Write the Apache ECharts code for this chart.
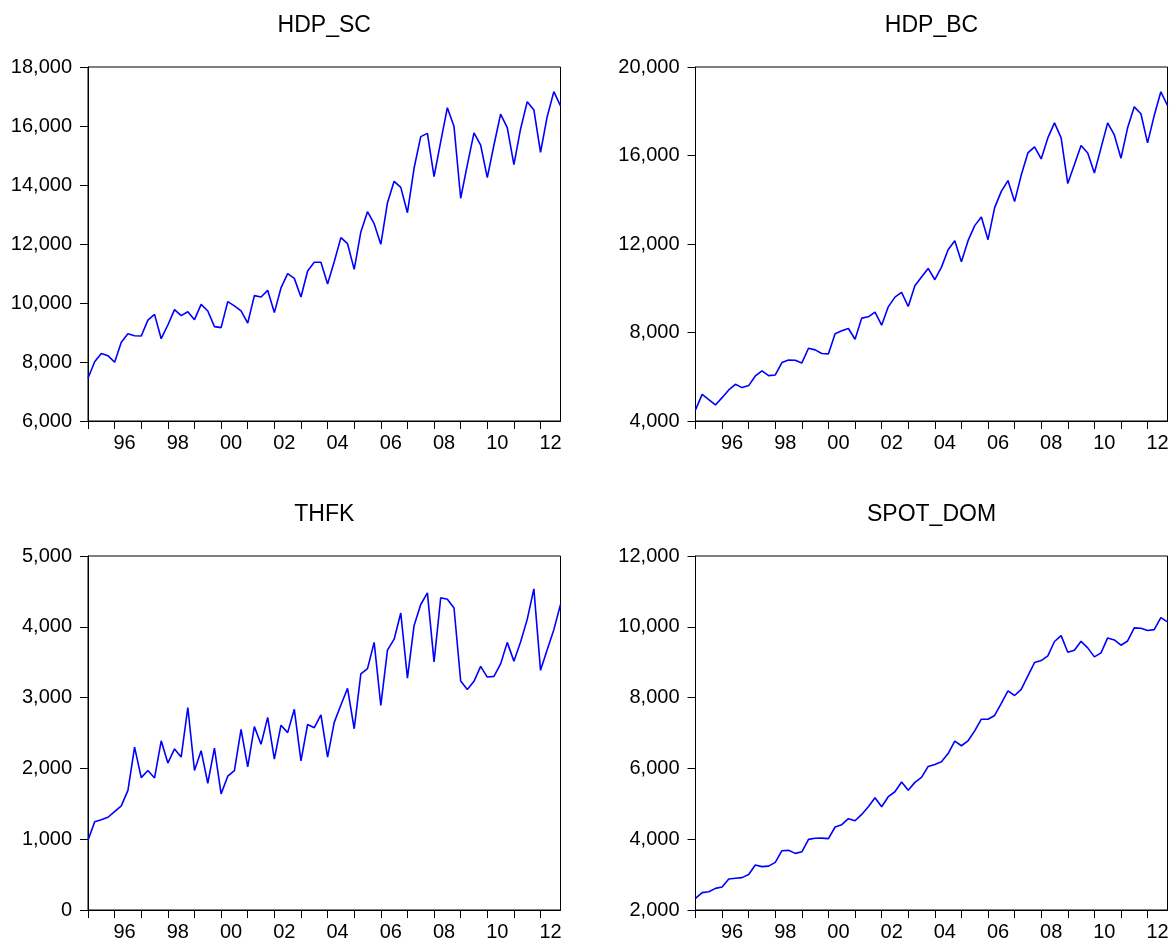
<!DOCTYPE html>
<html>
<head>
<meta charset="utf-8">
<script src="https://cdn.jsdelivr.net/npm/echarts@6/dist/echarts.min.js"></script>
<style>
  html, body { margin: 0; padding: 0; background: #fff; }
  #chart { width: 1173px; height: 942px; }
</style>
</head>
<body>
<div id="chart"></div>
<script>
// Quarterly series, 1995Q1 .. 2012Q4
const startYear = 1995;
const endYear = 2012;

const hdpSc = [
  7450, 8010, 8290, 8215, 7990, 8670, 8960, 8890, 8880, 9420, 9615, 8790,
  9255, 9775, 9570, 9705, 9435, 9955, 9730, 9200, 9165, 10045, 9900, 9730,
  9320, 10250, 10205, 10430, 9675, 10510, 10995, 10835, 10205, 11085, 11380, 11380,
  10645, 11400, 12215, 12010, 11140, 12410, 13095, 12690, 11990, 13400, 14125, 13920,
  13060, 14575, 15640, 15750, 14285, 15470, 16620, 15980, 13550, 14680, 15765, 15355,
  14250, 15355, 16405, 15945, 14690, 15900, 16825, 16545, 15110, 16315, 17165, 16680
];

const hdpBc = [
  4500, 5205, 4965, 4725, 5055, 5405, 5660, 5510, 5600, 6035, 6265, 6050,
  6080, 6640, 6760, 6745, 6625, 7290, 7215, 7050, 7035, 7940, 8075, 8180,
  7695, 8650, 8710, 8920, 8330, 9160, 9600, 9810, 9175, 10110, 10505, 10895,
  10385, 10955, 11740, 12150, 11200, 12150, 12830, 13220, 12195, 13645, 14380, 14865,
  13915, 15120, 16115, 16390, 15845, 16795, 17475, 16795, 14730, 15590, 16450, 16115,
  15210, 16345, 17475, 16930, 15875, 17250, 18200, 17885, 16570, 17805, 18880, 18260
];

const thfk = [
  985, 1245, 1275, 1310, 1390, 1470, 1690, 2300, 1870, 1970, 1865, 2390,
  2075, 2275, 2160, 2860, 1970, 2250, 1790, 2285, 1640, 1890, 1970, 2550,
  2020, 2590, 2340, 2720, 2130, 2610, 2505, 2835, 2105, 2620, 2575, 2755,
  2160, 2650, 2895, 3130, 2560, 3335, 3410, 3780, 2890, 3670, 3825, 4195,
  3275, 4020, 4315, 4480, 3505, 4410, 4390, 4265, 3235, 3115, 3230, 3440,
  3290, 3300, 3475, 3780, 3515, 3785, 4105, 4535, 3385, 3675, 3960, 4315
];

const spotDom = [
  2330, 2490, 2515, 2610, 2650, 2875, 2895, 2915, 3005, 3270, 3225, 3240,
  3345, 3675, 3685, 3600, 3645, 3995, 4025, 4030, 4015, 4345, 4410, 4580,
  4520, 4700, 4915, 5170, 4915, 5200, 5340, 5615, 5385, 5605, 5745, 6055,
  6110, 6185, 6420, 6770, 6640, 6780, 7060, 7390, 7390, 7495, 7835, 8190,
  8060, 8230, 8615, 8990, 9045, 9180, 9585, 9750, 9280, 9340, 9590, 9405,
  9150, 9265, 9685, 9630, 9480, 9600, 9970, 9960, 9895, 9920, 10260, 10140
];

// Panel titles and value-axis ranges
const panelTitles = ['HDP_SC', 'HDP_BC', 'THFK', 'SPOT_DOM'];
const yMin = [6000, 4000, 0, 2000];
const yMax = [18000, 20000, 5000, 12000];
const yStep = [2000, 4000, 1000, 2000];

// Period positions on the time axis (year + quarter fraction)
const periods = [];
for (let y = startYear; y <= endYear; y++) {
  for (let q = 0; q < 4; q++) periods.push(y + q / 4);
}
const yearTicks = [];
for (let y = startYear; y <= endYear; y++) yearTicks.push(y);
const yearLabels = yearTicks.filter(y => y % 2 === 0);

const seriesData = [hdpSc, hdpBc, thfk, spotDom];

const FONT = '"Liberation Sans", Arial, Helvetica, sans-serif';
const grids = [
  { left: 88, top: 67, width: 472.5, height: 354 },
  { left: 695.5, top: 67, width: 472, height: 354 },
  { left: 88, top: 556, width: 472.5, height: 354 },
  { left: 695.5, top: 556, width: 472, height: 354 }
];

const chart = echarts.init(document.getElementById('chart'), null, { renderer: 'canvas' });

const option = {
  animation: false,
  backgroundColor: '#ffffff',
  grid: grids.map(g => Object.assign({ show: true, borderColor: '#000', borderWidth: 1, backgroundColor: '#fff' }, g)),
  graphic: grids.map((g, i) => ({
    type: 'text',
    x: g.left + g.width / 2,
    y: g.top - 41.5,
    style: {
      text: panelTitles[i],
      fill: '#000',
      font: '23px ' + FONT,
      textAlign: 'center',
      textVerticalAlign: 'middle'
    }
  })),
  xAxis: grids.map((g, i) => ({
    type: 'value',
    gridIndex: i,
    min: startYear,
    max: endYear + 0.75,
    axisLine: { show: true, lineStyle: { color: '#000', width: 1 } },
    axisTick: { show: true, inside: false, length: 8, lineStyle: { color: '#000', width: 1 }, customValues: yearTicks },
    axisLabel: {
      customValues: yearLabels,
      formatter: v => String(Math.round(v)).slice(2),
      color: '#000',
      fontSize: 20,
      fontFamily: FONT,
      margin: 12,
      align: 'center',
      padding: [0, 0, 0, 20]
    },
    splitLine: { show: false }
  })),
  yAxis: grids.map((g, i) => ({
    type: 'value',
    gridIndex: i,
    min: yMin[i],
    max: yMax[i],
    interval: yStep[i],
    axisLine: { show: true, lineStyle: { color: '#000', width: 1 } },
    axisTick: { show: true, inside: false, length: 8, lineStyle: { color: '#000', width: 1 } },
    axisLabel: {
      formatter: v => v.toLocaleString('en-US'),
      color: '#000',
      fontSize: 20,
      fontFamily: FONT,
      margin: 16,
      padding: [0, 0, 5, 0]
    },
    splitLine: { show: false }
  })),
  series: seriesData.map((vals, i) => ({
    type: 'line',
    name: panelTitles[i],
    xAxisIndex: i,
    yAxisIndex: i,
    data: vals.map((v, k) => [periods[k], v]),
    showSymbol: false,
    symbol: 'none',
    lineStyle: { color: '#0000ff', width: 1.6 },
    silent: true
  }))
};

chart.setOption(option);
</script>
</body>
</html>
